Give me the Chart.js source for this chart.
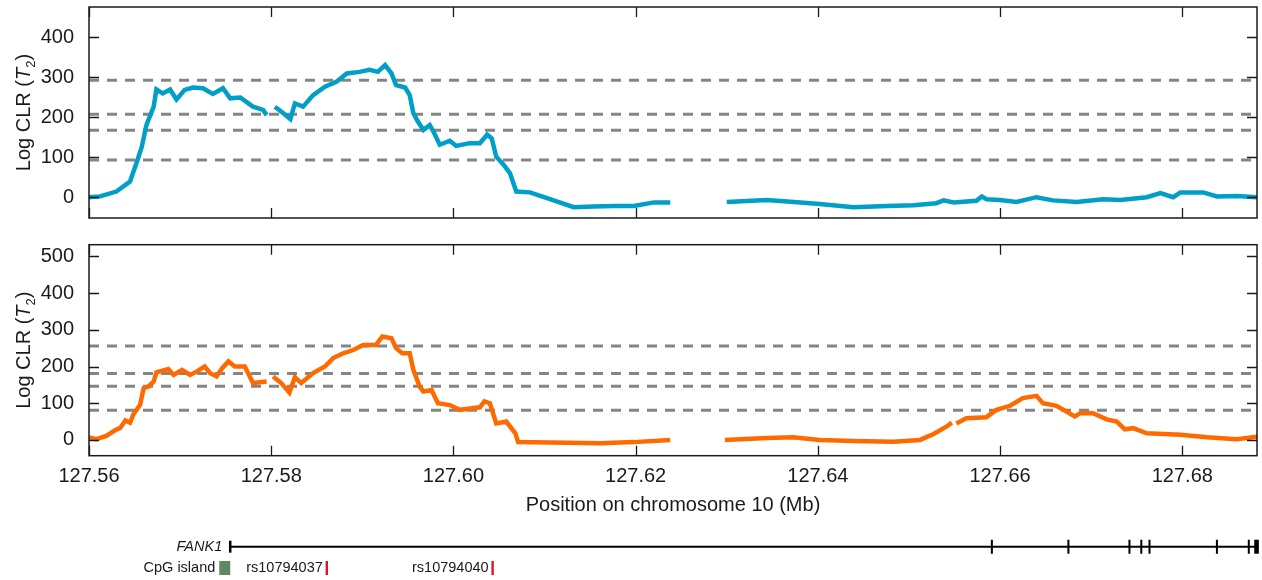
<!DOCTYPE html>
<html lang="en">
<head>
<meta charset="UTF-8">
<title>Log CLR along chromosome 10</title>
<script src="https://cdn.jsdelivr.net/npm/chart.js"></script>
<style>
  body { margin: 0; background: #fff; }
  #wrap { position: relative; width: 1262px; height: 580px; }
  #topChart { position: absolute; left: 0; top: 0; }
  #bottomChart { position: absolute; left: 0; top: 230px; }
</style>
</head>
<body>
<div id="wrap">
  <canvas id="topChart" width="1262" height="230"></canvas>
  <canvas id="bottomChart" width="1262" height="350"></canvas>
</div>
<script>
// x axis (Mb)
const xTicks = [127.56, 127.58, 127.60, 127.62, 127.64, 127.66, 127.68];
const xMin = 127.56;
const xMax = 127.6882;

// top panel
const topTicks = [0, 100, 200, 300, 400];
const topThresholds = [292, 207, 167, 93];
const topPos = [127.5600, 127.5612, 127.5630, 127.5645, 127.5652, 127.5658, 127.5663, 127.5671, 127.5674, 127.5681,
  127.5689, 127.5696, 127.5705, 127.5714, 127.5725, 127.5736, 127.5747, 127.5755, 127.5766, 127.5780,
  127.5791, 127.5795, 127.5799, 127.5804, 127.5813, 127.5821, 127.5826, 127.5835, 127.5846, 127.5859,
  127.5872, 127.5883, 127.5897, 127.5908, 127.5917, 127.5925, 127.5932, 127.5937, 127.5947, 127.5952,
  127.5956, 127.5961, 127.5967, 127.5974, 127.5978, 127.5985, 127.5996, 127.6003, 127.6018, 127.6029,
  127.6037, 127.6042, 127.6047, 127.6055, 127.6062, 127.6069, 127.6084, 127.6106, 127.6132, 127.6154,
  127.6176, 127.6198, 127.6220, 127.6238, 127.6270, 127.6300, 127.6344, 127.6381, 127.6402, 127.6439,
  127.6476, 127.6505, 127.6530, 127.6538, 127.6549, 127.6574, 127.6580, 127.6585, 127.6600, 127.6618,
  127.6640, 127.6658, 127.6684, 127.6713, 127.6732, 127.6761, 127.6776, 127.6790, 127.6798, 127.6823,
  127.6838, 127.6860, 127.6882];
const topClr = [0, 2, 14, 39, 85, 126, 180, 226, 269, 259,
  269, 244, 268, 274, 272, 258, 272, 247, 249, 226,
  218, 205, null, 226, 210, 195, 234, 226, 255, 276,
  289, 309, 313, 318, 313, 330, 309, 280, 274, 255,
  210, 189, 168, 180, 164, 131, 141, 128, 135, 135,
  156, 147, 101, 81, 60, 14, 12, -5, -25, -23,
  -22, -22, -13, -13, null, -12, -7, -13, -17, -25,
  -22, -20, -15, -8, -13, -9, 2, -5, -7, -12,
  0, -8, -12, -5, -7, 0, 10, 0, 12, 12,
  2, 3, 0];

// bottom panel
const bottomTicks = [0, 100, 200, 300, 400, 500];
const bottomThresholds = [256, 181, 146, 81];
const bottomPos = [127.5600, 127.5608, 127.5619, 127.5629, 127.5634, 127.5640, 127.5645, 127.5649, 127.5656, 127.5660,
  127.5665, 127.5671, 127.5674, 127.5687, 127.5693, 127.5702, 127.5711, 127.5718, 127.5727, 127.5733,
  127.5740, 127.5746, 127.5753, 127.5760, 127.5771, 127.5780, 127.5795, 127.5798, 127.5802, 127.5811,
  127.5820, 127.5826, 127.5833, 127.5846, 127.5859, 127.5868, 127.5879, 127.5890, 127.5901, 127.5915,
  127.5922, 127.5932, 127.5937, 127.5944, 127.5952, 127.5956, 127.5963, 127.5967, 127.5976, 127.5983,
  127.5996, 127.6007, 127.6029, 127.6034, 127.6040, 127.6047, 127.6058, 127.6068, 127.6071, 127.6106,
  127.6161, 127.6198, 127.6238, 127.6270, 127.6298, 127.6344, 127.6373, 127.6402, 127.6439, 127.6483,
  127.6512, 127.6527, 127.6541, 127.6547, 127.6550, 127.6552, 127.6563, 127.6585, 127.6596, 127.6611,
  127.6625, 127.6640, 127.6647, 127.6662, 127.6682, 127.6688, 127.6702, 127.6717, 127.6728, 127.6737,
  127.6746, 127.6761, 127.6798, 127.6827, 127.6860, 127.6882];
const bottomClr = [7, 2, 11, 27, 32, 53, 47, 71, 95, 141,
  145, 159, 184, 193, 177, 191, 177, 186, 200, 182,
  173, 195, 214, 200, 200, 155, 159, null, 173, 155,
  129, 171, 155, 182, 200, 223, 236, 245, 259, 259,
  282, 277, 250, 236, 236, 191, 145, 132, 136, 100,
  95, 82, 89, 105, 100, 45, 50, 18, -6, -7,
  -9, -6, 0, null, 0, 5, 7, 0, -3, -5,
  0, 16, 36, 47, null, 45, 59, 62, 82, 93,
  114, 120, 100, 93, 64, 73, 73, 56, 50, 29,
  32, 18, 14, 7, 2, 9];

// gene track (Mb)
const geneName = 'FANK1';
const geneStart = 127.5755;
const geneEnd = 127.6884;
const exonPos = [127.6591, 127.6675, 127.6742, 127.6755, 127.6764, 127.6838, 127.6873];
const exonBlock = [127.6879, 127.6884];
const cpgIsland = [127.5743, 127.5755];
const snpNames = ['rs10794037', 'rs10794040'];
const snpPos = [127.5861, 127.6043];

const FONT = '"Liberation Sans", Arial, Helvetica, sans-serif';
Chart.defaults.font.family = FONT;
Chart.defaults.color = '#1a1a1a';

const points = (xs, ys) => xs.map((x, i) => ({ x: x, y: ys[i] }));

function dashedSets(levels) {
  return levels.map(v => ({
    data: [{ x: xMin, y: v }, { x: xMax, y: v }],
    borderColor: '#858585',
    borderWidth: 3,
    borderDash: [10, 8],
    order: 2
  }));
}

// frame with inward tick marks, like the original figure
const framePlugin = {
  id: 'frame',
  afterDraw(chart) {
    const { ctx, chartArea: a, scales } = chart;
    ctx.save();
    ctx.strokeStyle = '#1a1a1a';
    ctx.lineWidth = 1.5;
    ctx.strokeRect(a.left, a.top, a.right - a.left, a.bottom - a.top);
    ctx.lineWidth = 1.3;
    ctx.beginPath();
    xTicks.forEach(v => {
      const px = Math.round(scales.x.getPixelForValue(v)) + 0.5;
      ctx.moveTo(px, a.top); ctx.lineTo(px, a.top + 10);
      ctx.moveTo(px, a.bottom); ctx.lineTo(px, a.bottom - 10);
    });
    scales.y.ticks.forEach(t => {
      const py = Math.round(scales.y.getPixelForValue(t.value)) + 0.5;
      ctx.moveTo(a.left, py); ctx.lineTo(a.left + 10, py);
      ctx.moveTo(a.right, py); ctx.lineTo(a.right - 10, py);
    });
    ctx.stroke();
    ctx.restore();
  }
};

// y title: Log CLR (T2) with italic T and subscript 2
const yTitlePlugin = {
  id: 'ytitle',
  afterDraw(chart) {
    const { ctx, chartArea: a } = chart;
    const parts = [
      { t: 'Log CLR (', f: '20px ' + FONT, dy: 0 },
      { t: 'T', f: 'italic 20px ' + FONT, dy: 0 },
      { t: '2', f: '13px ' + FONT, dy: 5 },
      { t: ')', f: '20px ' + FONT, dy: 0 }
    ];
    ctx.save();
    ctx.translate(30, (a.top + a.bottom) / 2);
    ctx.rotate(-Math.PI / 2);
    ctx.fillStyle = '#1a1a1a';
    ctx.textBaseline = 'alphabetic';
    let total = 0;
    parts.forEach(p => { ctx.font = p.f; p.w = ctx.measureText(p.t).width; total += p.w; });
    let x = -total / 2;
    parts.forEach(p => { ctx.font = p.f; ctx.fillText(p.t, x, p.dy); x += p.w; });
    ctx.restore();
  }
};

// gene / CpG / SNP annotation under the bottom panel
const genePlugin = {
  id: 'genetrack',
  afterDraw(chart) {
    const { ctx } = chart;
    const sx = chart.scales.x;
    const gy = 316.7;
    const ry = 338;
    ctx.save();
    ctx.strokeStyle = '#000';
    ctx.fillStyle = '#000';
    ctx.lineWidth = 2;
    ctx.beginPath();
    ctx.moveTo(sx.getPixelForValue(geneStart), gy);
    ctx.lineTo(sx.getPixelForValue(geneEnd), gy);
    ctx.stroke();
    ctx.lineWidth = 2.5;
    ctx.beginPath();
    ctx.moveTo(sx.getPixelForValue(geneStart), gy - 6);
    ctx.lineTo(sx.getPixelForValue(geneStart), gy + 6);
    ctx.stroke();
    ctx.lineWidth = 2;
    ctx.beginPath();
    exonPos.forEach(v => {
      const px = sx.getPixelForValue(v);
      ctx.moveTo(px, gy - 7); ctx.lineTo(px, gy + 7);
    });
    ctx.stroke();
    const b0 = sx.getPixelForValue(exonBlock[0]);
    const b1 = sx.getPixelForValue(exonBlock[1]);
    ctx.fillRect(b0, gy - 7, b1 - b0, 14);

    ctx.textBaseline = 'middle';
    ctx.textAlign = 'right';
    ctx.fillStyle = '#1a1a1a';
    ctx.font = 'italic 14.5px ' + FONT;
    ctx.fillText(geneName, sx.getPixelForValue(geneStart) - 8, gy);

    const c0 = sx.getPixelForValue(cpgIsland[0]);
    const c1 = sx.getPixelForValue(cpgIsland[1]);
    ctx.fillStyle = '#5e8a60';
    ctx.fillRect(c0, ry - 7, c1 - c0, 14);
    ctx.fillStyle = '#1a1a1a';
    ctx.font = '14.5px ' + FONT;
    ctx.fillText('CpG island', c0 - 4, ry);

    snpPos.forEach((v, i) => {
      const px = sx.getPixelForValue(v);
      ctx.fillStyle = '#e5141c';
      ctx.fillRect(px - 1.2, ry - 7, 2.4, 14);
      ctx.fillStyle = '#1a1a1a';
      ctx.fillText(snpNames[i], px - 4, ry);
    });
    ctx.restore();
  }
};

function yScale(min, max, ticks) {
  return {
    min: min,
    max: max,
    afterBuildTicks: s => { s.ticks = ticks.map(v => ({ value: v })); },
    afterFit: s => { s.width = 89; s.paddingTop = 0; s.paddingBottom = 0; },
    grid: { display: false },
    border: { display: false },
    ticks: { padding: 7, font: { size: 20 } }
  };
}

const baseOptions = {
  responsive: false,
  animation: false,
  events: [],
  plugins: { legend: { display: false }, tooltip: { enabled: false } },
  elements: { point: { radius: 0 }, line: { tension: 0 } }
};

new Chart(document.getElementById('topChart'), {
  type: 'line',
  data: {
    datasets: [{
      data: points(topPos, topClr),
      borderColor: '#009fc7',
      borderWidth: 4.5,
      spanGaps: false,
      order: 0
    }].concat(dashedSets(topThresholds))
  },
  options: Object.assign({}, baseOptions, {
    layout: { padding: { top: 7, right: 5, bottom: 12, left: 0 } },
    scales: {
      x: { type: 'linear', min: xMin, max: xMax, display: false },
      y: yScale(-52, 475, topTicks)
    }
  }),
  plugins: [framePlugin, yTitlePlugin]
});

new Chart(document.getElementById('bottomChart'), {
  type: 'line',
  data: {
    datasets: [{
      data: points(bottomPos, bottomClr),
      borderColor: '#ff6a00',
      borderWidth: 4.5,
      spanGaps: false,
      order: 0
    }].concat(dashedSets(bottomThresholds))
  },
  options: Object.assign({}, baseOptions, {
    layout: { padding: { top: 14.7, right: 5, bottom: 0, left: 0 } },
    scales: {
      x: {
        type: 'linear',
        min: xMin,
        max: xMax,
        afterBuildTicks: s => { s.ticks = xTicks.map(v => ({ value: v })); },
        afterFit: s => { s.height = 124.3; },
        grid: { display: false },
        border: { display: false },
        ticks: { padding: 1, font: { size: 20 }, maxRotation: 0, callback: v => v.toFixed(2) },
        title: {
          display: true,
          text: 'Position on chromosome 10 (Mb)',
          font: { size: 20 },
          padding: { top: 0, bottom: 63 }
        }
      },
      y: yScale(-43, 532, bottomTicks)
    }
  }),
  plugins: [framePlugin, yTitlePlugin, genePlugin]
});
</script>
</body>
</html>
